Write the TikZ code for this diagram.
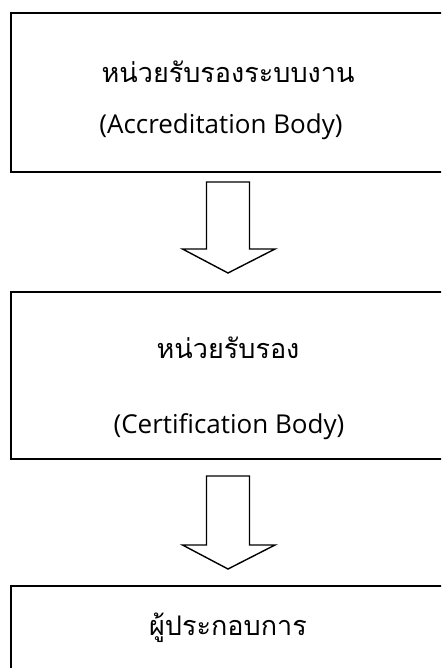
\documentclass[tikz,border=0pt]{standalone}
\usepackage{fontspec}
\setmainfont{Open Sans}
\newfontfamily\thaifont[Script=Thai]{Loma}
\begin{document}
\begin{tikzpicture}[x=1pt,y=-1pt,
  boxline/.style={draw=black,line width=1.7pt},
  thaitext/.style={font=\thaifont\fontsize{27}{30}\selectfont,inner sep=0pt},
  engtext/.style={font=\fontsize{26}{30}\selectfont,inner sep=0pt},
  bigarrow/.style={draw=black,line width=1.4pt,fill=white,line join=miter}]
\useasboundingbox (0,0) rectangle (441,668);
\clip (0,0) rectangle (441,668);
% boxes
\node[boxline,rectangle,minimum width=436pt,minimum height=159pt,anchor=north west] (b1) at (10,12) {};
\node[boxline,rectangle,minimum width=436pt,minimum height=167pt,anchor=north west] (b2) at (10,291) {};
\node[boxline,rectangle,minimum width=436pt,minimum height=160pt,anchor=north west] (b3) at (10,585) {};
% texts
\node[thaitext] (t1) at (228,72) {หน่วยรับรองระบบงาน};
\node[engtext] (e1) at (221,127) {(Accreditation Body)};
\node[thaitext] (t2) at (228,348) {หน่วยรับรอง};
\node[engtext] (e2) at (229,427) {(Certification Body)};
\node[thaitext] (t3) at (228,628) {ผู้ประกอบการ};
% arrows
\coordinate (a1) at (228,182);
\draw[bigarrow] ([xshift=-21.5pt]a1) -- ++(0,67) -- ++(-24,0) -- (228,273) -- (275,249) -- ++(-25.5,0) -- ++(0,-67) -- cycle;
\coordinate (a2) at (228,476);
\draw[bigarrow] ([xshift=-21.5pt]a2) -- ++(0,69) -- ++(-24,0) -- (228,569) -- (275,545) -- ++(-25.5,0) -- ++(0,-69) -- cycle;
\end{tikzpicture}
\end{document}
